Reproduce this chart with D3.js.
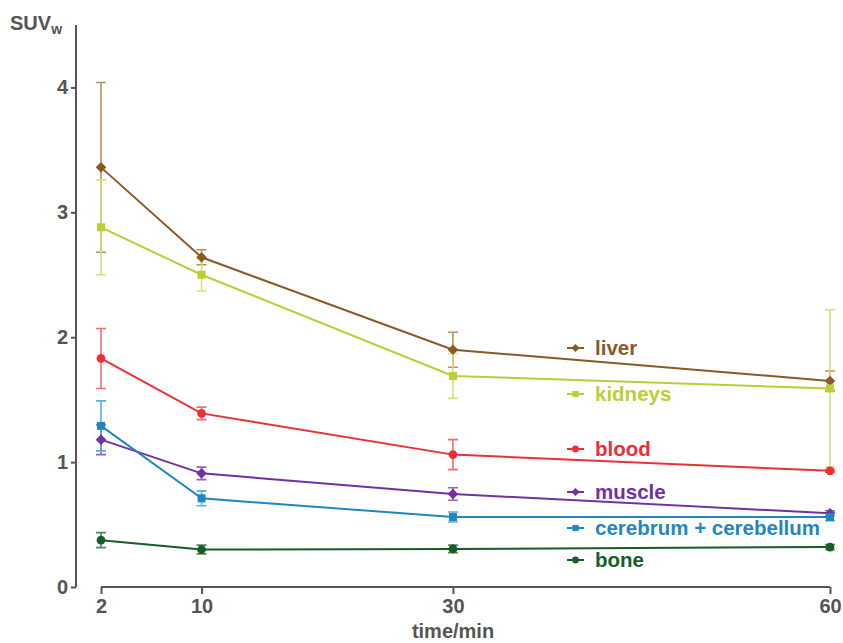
<!DOCTYPE html>
<html>
<head>
<meta charset="utf-8">
<script src="https://cdn.jsdelivr.net/npm/d3@7"></script>
<style>
  body { margin: 0; background: #fff; }
  text { font-family: "Liberation Sans", Arial, sans-serif; font-weight: bold; }
</style>
</head>
<body>
<div id="chart"></div>
<script>
// time points (min)
var times = [2, 10, 30, 60];

// series names, in legend order
var organs = ["liver", "kidneys", "blood", "muscle", "cerebrum + cerebellum", "bone"];

// mean SUVw per organ at each time point
var liverMean    = [3.36, 2.64, 1.90, 1.65];
var kidneysMean  = [2.88, 2.50, 1.69, 1.59];
var bloodMean    = [1.83, 1.39, 1.06, 0.93];
var muscleMean   = [1.18, 0.91, 0.745, 0.59];
var cerebrumMean = [1.29, 0.71, 0.56, 0.56];
var boneMean     = [0.375, 0.30, 0.305, 0.32];

// error (+/-) per organ at each time point
var liverErr    = [0.68, 0.06, 0.14, 0.08];
var kidneysErr  = [0.38, 0.13, 0.18, 0.63];
var bloodErr    = [0.24, 0.05, 0.12, 0.01];
var muscleErr   = [0.12, 0.05, 0.05, 0.02];
var cerebrumErr = [0.20, 0.06, 0.04, 0.03];
var boneErr     = [0.06, 0.035, 0.03, 0.02];

// axis ticks
var xTicks = [2, 10, 30, 60];
var yTicks = [0, 1, 2, 3, 4];

// styling per series
var colors    = ["#8b5a24", "#bccd35", "#ec2f36", "#7131a0", "#1f87bf", "#175d28"];
var errColors = ["#b99160", "#d5df7c", "#ef6d73", "#9466bb", "#5bb0da", "#4d8a5c"];
var shapes    = ["diamond", "square", "circle", "diamond", "square", "circle"];
// legend row centres (pixels)
var legendY   = [348, 394, 449, 492, 528, 560];

var means = [liverMean, kidneysMean, bloodMean, muscleMean, cerebrumMean, boneMean];
var errs  = [liverErr, kidneysErr, bloodErr, muscleErr, cerebrumErr, boneErr];

var series = organs.map(function (name, i) {
  return {
    name: name,
    color: colors[i],
    errColor: errColors[i],
    shape: shapes[i],
    points: times.map(function (t, j) {
      return { t: t, v: means[i][j], e: errs[i][j] };
    })
  };
});

var width = 843, height = 643;

var svg = d3.select("#chart").append("svg")
  .attr("width", width)
  .attr("height", height);

var xScale = d3.scaleLinear().domain([2, 60]).range([101, 830]);
var yScale = d3.scaleLinear().domain([0, 4.5]).range([587, 25]);

var axisColor = "#555555";

// y axis
var yAxis = svg.append("g")
  .attr("transform", "translate(76,0)")
  .call(d3.axisLeft(yScale).tickValues(yTicks).tickSize(5).tickPadding(3).tickFormat(d3.format("d")));
yAxis.select(".domain").attr("d", "M0," + yScale(4.5) + "V" + yScale(0));

// x axis
var xAxis = svg.append("g")
  .attr("transform", "translate(0,587)")
  .call(d3.axisBottom(xScale).tickValues(xTicks).tickSize(7).tickPadding(5).tickFormat(d3.format("d")));
xAxis.select(".domain").attr("d", "M" + xScale(2) + ",0H" + xScale(60));

svg.selectAll(".domain, .tick line")
  .attr("stroke", axisColor)
  .attr("stroke-width", 2);
svg.selectAll(".tick text")
  .attr("fill", axisColor)
  .style("font-size", "20px");

// axis titles
var yTitle = svg.append("text")
  .attr("x", 10)
  .attr("y", 30)
  .attr("fill", axisColor)
  .style("font-size", "20px")
  .text("SUV");
yTitle.append("tspan")
  .attr("dy", 4)
  .style("font-size", "14px")
  .text("w");

svg.append("text")
  .attr("x", 453)
  .attr("y", 638)
  .attr("text-anchor", "middle")
  .attr("fill", axisColor)
  .style("font-size", "20px")
  .text("time/min");

// marker drawing; diamond is a square turned 45 degrees
var squareDiamond = {
  draw: function (context, size) {
    var r = Math.sqrt(size / 2);
    context.moveTo(0, -r);
    context.lineTo(r, 0);
    context.lineTo(0, r);
    context.lineTo(-r, 0);
    context.closePath();
  }
};
function symbolFor(shape, size) {
  var type = shape === "diamond" ? squareDiamond : shape === "square" ? d3.symbolSquare : d3.symbolCircle;
  return d3.symbol().type(type).size(size)();
}
var markerSize = { diamond: 56, square: 64, circle: 60 };

var line = d3.line()
  .x(function (d) { return xScale(d.t); })
  .y(function (d) { return yScale(d.v); });

var capW = 5;

// error bars first (behind lines)
series.forEach(function (s) {
  var g = svg.append("g").attr("stroke", s.errColor).attr("stroke-width", 1.6).attr("fill", "none");
  s.points.forEach(function (p) {
    var x = xScale(p.t), y1 = yScale(p.v + p.e), y2 = yScale(p.v - p.e);
    g.append("path")
      .attr("d", "M" + x + "," + y1 + "V" + y2 +
                 "M" + (x - capW) + "," + y1 + "H" + (x + capW) +
                 "M" + (x - capW) + "," + y2 + "H" + (x + capW));
  });
});

// lines and markers
series.forEach(function (s) {
  svg.append("path")
    .datum(s.points)
    .attr("d", line)
    .attr("fill", "none")
    .attr("stroke", s.color)
    .attr("stroke-width", 2);

  svg.selectAll(null)
    .data(s.points)
    .enter()
    .append("path")
    .attr("transform", function (d) { return "translate(" + xScale(d.t) + "," + yScale(d.v) + ")"; })
    .attr("d", symbolFor(s.shape, markerSize[s.shape]))
    .attr("fill", s.color);
});

// legend
series.forEach(function (s, i) {
  var g = svg.append("g").attr("transform", "translate(567," + legendY[i] + ")");
  g.append("line")
    .attr("x1", 0).attr("x2", 17)
    .attr("stroke", s.color)
    .attr("stroke-width", 2);
  g.append("path")
    .attr("transform", "translate(8.5,0)")
    .attr("d", symbolFor(s.shape, markerSize[s.shape] * 0.6))
    .attr("fill", s.color);
  g.append("text")
    .attr("x", 28)
    .attr("y", 7)
    .attr("fill", s.color)
    .style("font-size", "20.5px")
    .text(s.name);
});
</script>
</body>
</html>
